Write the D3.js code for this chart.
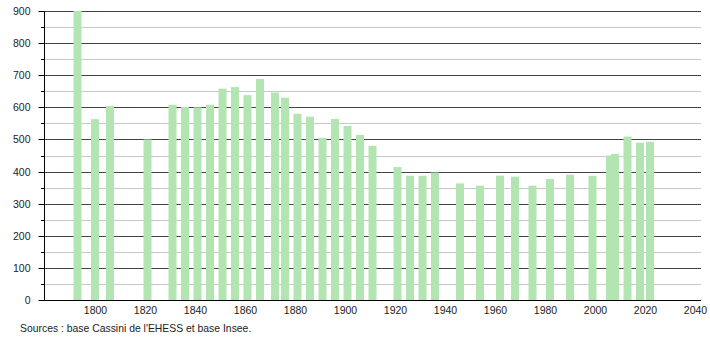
<!DOCTYPE html>
<html><head><meta charset="utf-8">
<script src="https://cdn.jsdelivr.net/npm/d3@7"></script>
<style>body{margin:0;background:#fff}svg{display:block}text{font-family:"Liberation Sans",Arial,sans-serif}</style>
</head><body>
<script>
const years = [1793,1800,1806,1821,1831,1836,1841,1846,1851,1856,1861,1866,1872,1876,1881,1886,1891,1896,1901,1906,1911,1921,1926,1931,1936,1946,1954,1962,1968,1975,1982,1990,1999,2006,2008,2013,2018,2022];
const population = [900,563,604,500,608,601,600,608,658,663,638,688,646,630,580,571,505,564,542,514,480,414,387,387,397,363,356,387,384,356,377,390,387,450,455,509,490,493];
const xTicks = [1800,1820,1840,1860,1880,1900,1920,1940,1960,1980,2000,2020,2040];
const yTicks = [0,100,200,300,400,500,600,700,800,900];
const yMinor = [50,150,250,350,450,550,650,750,850];
const source = "Sources : base Cassini de l'EHESS et base Insee.";

const W=710,H=340, L=44, R=701, T=11, B=300;
const svg=d3.select("body").append("svg").attr("width",W).attr("height",H);
const x=d3.scaleLinear().domain([1779.6,2042.4]).range([L,R]);
const y=d3.scaleLinear().domain([0,900]).range([B,T]);

// gridlines
svg.append("g").selectAll("line").data(yMinor).join("line")
  .attr("x1",L).attr("x2",R).attr("y1",d=>Math.round(y(d))+0.5).attr("y2",d=>Math.round(y(d))+0.5)
  .attr("stroke","#c8c8c8").attr("stroke-width",1);
svg.append("g").selectAll("line").data(yTicks.slice(1)).join("line")
  .attr("x1",L).attr("x2",R).attr("y1",d=>Math.round(y(d))+0.5).attr("y2",d=>Math.round(y(d))+0.5)
  .attr("stroke","#444").attr("stroke-width",1);

// bars
const bw = x(1.6)-x(-1.6);
svg.append("g").selectAll("rect").data(years).join("rect")
  .attr("x",(d)=>x(d)-bw/2).attr("width",bw)
  .attr("y",(d,i)=>y(population[i])).attr("height",(d,i)=>B-y(population[i]))
  .attr("fill","#b2e5b2");

// y axis
const ya=d3.axisLeft(y).tickValues(yTicks).tickSize(6).tickPadding(8).tickFormat(d3.format("d"));
const gy=svg.append("g").attr("transform",`translate(${L+0.5},0)`).call(ya);
gy.select(".domain").attr("d",`M0,${T}V${B}`).attr("stroke","#000");
gy.selectAll(".tick line").attr("stroke","#000");
gy.selectAll("text").attr("font-size",10.5).attr("fill","#222");
gy.selectAll(".tick").attr("transform",d=>`translate(0,${Math.round(y(d))+0.5})`);
svg.append("g").selectAll("line").data(yMinor).join("line")
  .attr("x1",L-3).attr("x2",L).attr("y1",d=>Math.round(y(d))+0.5).attr("y2",d=>Math.round(y(d))+0.5)
  .attr("stroke","#000");

// x axis
const xa=d3.axisBottom(x).tickValues(xTicks).tickSize(0).tickPadding(6).tickFormat(d3.format("d"));
const gx=svg.append("g").attr("transform",`translate(0,${B+0.5})`).call(xa);
gx.select(".domain").attr("d",`M${L},0H${R}`).attr("stroke","#000");
gx.selectAll("text").attr("font-size",10.5).attr("fill","#222");

svg.append("text").attr("x",20).attr("y",332).attr("font-size",10.4).attr("fill","#222").text(source);
</script>
</body></html>
